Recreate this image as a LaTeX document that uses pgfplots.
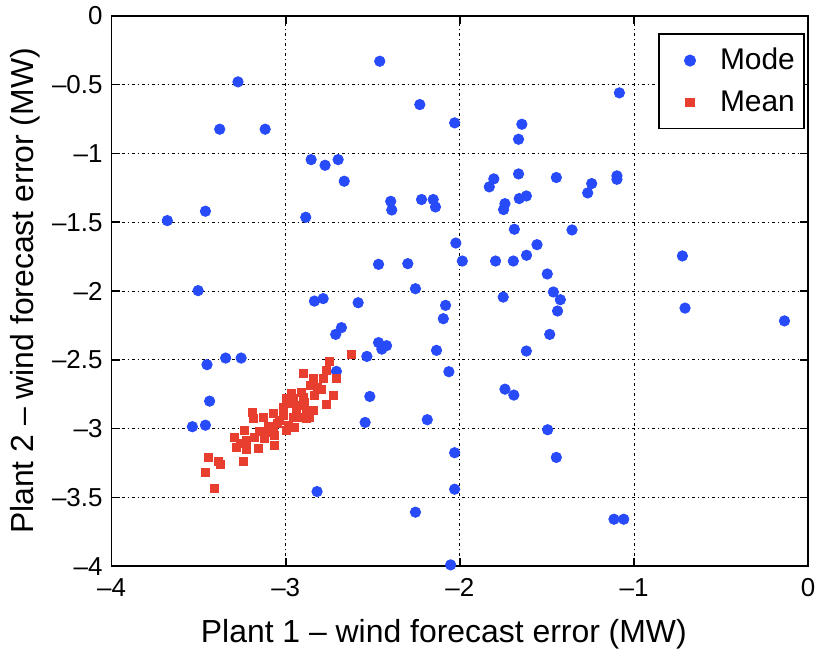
\documentclass[border=0pt]{standalone}
\usepackage{pgfplots}
\pgfplotsset{compat=1.18}
\usepackage{fontspec}
\setmainfont{Liberation Sans}
\definecolor{modeblue}{RGB}{40,75,250}
\definecolor{meanred}{RGB}{232,62,48}
\begin{document}
\begin{tikzpicture}
\begin{axis}[
  scale only axis,
  width=348bp, height=275bp,
  xmin=-4, xmax=0, ymin=-4, ymax=0,
  xtick={-4,-3,-2,-1,0},
  xticklabels={\textendash4,\textendash3,\textendash2,\textendash1,0},
  ytick={-4,-3.5,-3,-2.5,-2,-1.5,-1,-0.5,0},
  yticklabels={\textendash4,\textendash3.5,\textendash3,\textendash2.5,\textendash2,\textendash1.5,\textendash1,\textendash0.5,0},
  tick label style={font=\fontsize{13}{13}\selectfont, black},
  xticklabel style={yshift=-2.5bp},
  yticklabel style={xshift=-1bp},
  label style={font=\fontsize{16}{16}\selectfont},
  xlabel={Plant 1 \textendash\ wind forecast error (MW)},
  ylabel={Plant 2 \textendash\ wind forecast error (MW)},
  xlabel style={yshift=-4.5bp, xshift=-8bp},
  ylabel style={yshift=-1bp},
  tick align=inside,
  major tick length=4bp,
  axis line style={black, line width=0.8bp},
  every tick/.style={black, line width=0.8bp},
  grid=major,
  major grid style={black, line width=0.5bp, dash pattern=on 1.6bp off 1.4bp on 0.6bp off 1.4bp},
  legend style={at={(0.995,0.968)}, anchor=north east, draw=black, line width=0.8bp,
    font=\fontsize{15}{15}\selectfont, inner xsep=2.5bp, inner ysep=5bp,
    row sep=5bp, cells={anchor=west}},
  legend cell align=left,
  legend image code/.code={\path[draw=none, fill=none] (0bp,0bp) -- (26bp,0bp);
    \draw[#1] plot coordinates {(13bp,0bp)};},
]
\addplot[only marks, mark=*, mark size=2.6bp, color=modeblue, mark options={draw=modeblue, fill=modeblue}] table {
x y
-2.46 -0.33
-3.274 -0.48
-3.379 -0.824
-3.118 -0.824
-2.230 -0.645
-2.030 -0.778
-2.854 -1.045
-2.774 -1.086
-2.699 -1.045
-2.664 -1.202
-2.397 -1.348
-2.391 -1.411
-2.220 -1.335
-2.153 -1.335
-2.140 -1.389
-3.680 -1.488
-3.461 -1.420
-2.885 -1.464
-2.023 -1.651
-1.986 -1.782
-2.467 -1.806
-2.299 -1.801
-2.255 -1.983
-3.503 -1.997
-2.835 -2.073
-2.785 -2.055
-1.084 -0.56
-1.644 -0.788
-1.663 -0.897
-1.805 -1.185
-1.831 -1.243
-1.663 -1.149
-1.446 -1.175
-1.243 -1.219
-1.266 -1.287
-1.098 -1.163
-1.098 -1.188
-1.741 -1.365
-1.749 -1.408
-1.659 -1.328
-1.618 -1.309
-1.687 -1.551
-1.356 -1.556
-1.795 -1.782
-1.693 -1.782
-1.617 -1.740
-1.557 -1.663
-1.498 -1.876
-1.463 -2.007
-1.751 -2.044
-0.722 -1.745
-1.423 -2.063
-1.439 -2.145
-1.484 -2.315
-1.618 -2.436
-1.741 -2.713
-1.690 -2.756
-1.496 -3.008
-1.446 -3.209
-2.030 -3.175
-2.030 -3.44
-1.115 -3.658
-1.059 -3.658
-0.707 -2.124
-0.136 -2.217
-2.584 -2.085
-2.082 -2.104
-2.095 -2.201
-2.680 -2.266
-2.713 -2.315
-2.467 -2.375
-2.421 -2.397
-2.448 -2.422
-2.134 -2.431
-3.345 -2.487
-3.256 -2.487
-3.452 -2.535
-2.534 -2.475
-2.063 -2.586
-2.709 -2.584
-2.517 -2.766
-3.437 -2.80
-2.187 -2.935
-2.544 -2.955
-3.536 -2.986
-3.461 -2.975
-2.820 -3.457
-2.255 -3.607
-2.053 -3.99
};
\addlegendentry{Mode}
\addplot[only marks, mark=square*, mark size=2bp, color=meanred, mark options={draw=meanred, fill=meanred}] table {
x y
-2.621 -2.463
-2.747 -2.511
-2.766 -2.577
-2.709 -2.637
-2.785 -2.637
-2.900 -2.601
-2.843 -2.637
-2.856 -2.686
-2.795 -2.715
-2.728 -2.759
-2.766 -2.826
-2.967 -2.746
-2.910 -2.735
-2.833 -2.759
-2.996 -2.783
-3.015 -2.844
-2.967 -2.819
-2.881 -2.868
-2.843 -2.868
-2.862 -2.916
-2.910 -2.916
-3.073 -2.892
-3.130 -2.916
-3.193 -2.880
-3.187 -2.928
-3.034 -2.940
-2.986 -2.977
-2.948 -2.989
-2.996 -3.013
-3.073 -3.001
-3.111 -3.025
-3.236 -3.013
-3.293 -3.062
-3.178 -3.062
-3.121 -3.073
-3.063 -3.049
-3.226 -3.086
-3.283 -3.135
-3.226 -3.151
-3.159 -3.147
-3.063 -3.122
-3.446 -3.212
-3.385 -3.236
-3.374 -3.260
-3.245 -3.236
-3.463 -3.316
-3.410 -3.437
-2.957 -2.783
-2.929 -2.829
-2.891 -2.807
-3.015 -2.904
-2.957 -2.916
-2.881 -2.928
-2.940 -2.860
-3.045 -2.960
-3.100 -2.980
-2.900 -2.770
-2.820 -2.700
-3.150 -3.020
-3.260 -3.110
};
\addlegendentry{Mean}
\end{axis}
\path ([xshift=-2bp]current bounding box.west) -- ([xshift=1.5bp]current bounding box.east);
\end{tikzpicture}
\end{document}
